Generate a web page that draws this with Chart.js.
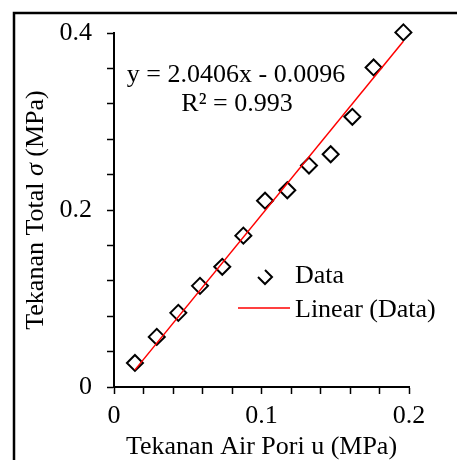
<!DOCTYPE html>
<html>
<head>
<meta charset="utf-8">
<script src="https://cdn.jsdelivr.net/npm/chart.js@4.4.1/dist/chart.umd.min.js"></script>
<style>
  html, body { margin: 0; padding: 0; background: #fff; }
  #wrap { width: 457px; height: 460px; }
</style>
</head>
<body>
<div id="wrap"><canvas id="myChart" width="457" height="460"></canvas></div>
<script>
// pore water pressure u vs total stress sigma (MPa)
const poreU = [0.0142, 0.0290, 0.0436, 0.0583, 0.0734, 0.0877, 0.1024, 0.1175, 0.1322, 0.1469, 0.1616, 0.1760, 0.1962];
const totalSigma = [0.0272, 0.0566, 0.0838, 0.1143, 0.1358, 0.1710, 0.2105, 0.2223, 0.2502, 0.2630, 0.3053, 0.3611, 0.4007];

// linear trendline (from the spreadsheet fit)
const slope = 2.0406;
const intercept = -0.0096;
const rSquared = 0.993;

const xTickLabels = ['0', '0.1', '0.2'];
const yTickLabels = ['0', '0.2', '0.4'];

const FONT = '"Liberation Serif", "Times New Roman", serif';

const scatterPoints = poreU.map((u, i) => ({ x: u, y: totalSigma[i] }));
const xFirst = Math.min(...poreU);
const xLast = Math.max(...poreU);
const trendPoints = [
  { x: xFirst, y: slope * xFirst + intercept },
  { x: xLast, y: slope * xLast + intercept }
];

// label only the major ticks, minor ones keep just the tick mark
function majorLabel(value, step, labels) {
  const k = value / step;
  if (Math.abs(k - Math.round(k)) < 1e-6) return labels[Math.round(k)] || '';
  return '';
}

const extras = {
  id: 'extras',
  beforeDraw(chart) {
    const ctx = chart.ctx;
    ctx.save();
    ctx.fillStyle = '#fff';
    ctx.fillRect(0, 0, chart.width, chart.height);
    ctx.restore();
  },
  afterDraw(chart) {
    const ctx = chart.ctx;
    const area = chart.chartArea;
    ctx.save();

    // outer frame
    ctx.strokeStyle = '#000';
    ctx.lineWidth = 2.5;
    ctx.strokeRect(14, 13, 600, 600);

    // y axis title with italic sigma
    const parts = [
      { t: 'Tekanan Total ', f: '26px ' + FONT },
      { t: '\u03C3', f: 'italic 26px ' + FONT },
      { t: ' (MPa)', f: '26px ' + FONT }
    ];
    let total = 0;
    parts.forEach(p => { ctx.font = p.f; p.w = ctx.measureText(p.t).width; total += p.w; });
    ctx.translate(36, (area.top + area.bottom) / 2);
    ctx.rotate(-Math.PI / 2);
    ctx.fillStyle = '#000';
    ctx.textBaseline = 'middle';
    ctx.textAlign = 'left';
    let px = -total / 2;
    parts.forEach(p => { ctx.font = p.f; ctx.fillText(p.t, px, 0); px += p.w; });
    ctx.setTransform(1, 0, 0, 1, 0, 0);

    // trendline equation
    ctx.font = '26px ' + FONT;
    ctx.textAlign = 'center';
    ctx.textBaseline = 'alphabetic';
    ctx.fillText('y = ' + slope.toFixed(4) + 'x - ' + Math.abs(intercept).toFixed(4), 236, 82);
    ctx.fillText('R\u00B2 = ' + rSquared.toFixed(3), 237, 111);

    // legend
    ctx.textAlign = 'left';
    ctx.fillText('Data', 295, 283);
    ctx.fillText('Linear (Data)', 295, 317);
    ctx.strokeStyle = '#000';
    ctx.lineWidth = 2;
    ctx.beginPath();
    ctx.moveTo(265, 270);
    ctx.lineTo(272, 277);
    ctx.lineTo(265, 284);
    ctx.lineTo(258, 277);
    ctx.stroke();
    ctx.strokeStyle = '#ff0000';
    ctx.lineWidth = 1.5;
    ctx.beginPath();
    ctx.moveTo(238, 308);
    ctx.lineTo(290, 308);
    ctx.stroke();

    ctx.restore();
  }
};

const ctx = document.getElementById('myChart').getContext('2d');
const myChart = new Chart(ctx, {
  type: 'scatter',
  data: {
    datasets: [
      {
        label: 'Linear (Data)',
        type: 'line',
        data: trendPoints,
        borderColor: '#ff0000',
        borderWidth: 1.5,
        pointRadius: 0,
        fill: false,
        tension: 0
      },
      {
        label: 'Data',
        data: scatterPoints,
        clip: false,
        pointStyle: 'rectRot',
        pointRadius: 8,
        pointBorderWidth: 2,
        pointBorderColor: '#000',
        pointBackgroundColor: 'rgba(255,255,255,0)'
      }
    ]
  },
  options: {
    responsive: false,
    animation: false,
    layout: { padding: { top: 33, right: 48, bottom: 0, left: 0 } },
    plugins: {
      legend: { display: false },
      tooltip: { enabled: false }
    },
    scales: {
      x: {
        type: 'linear',
        min: 0,
        max: 0.2,
        afterFit: s => { s.height = 73; },
        border: { display: true, color: '#000', width: 2 },
        grid: { drawOnChartArea: false, drawTicks: true, tickLength: 7, tickWidth: 1.5, tickColor: '#000' },
        ticks: {
          stepSize: 0.02,
          autoSkip: false,
          maxRotation: 0,
          padding: 7,
          color: '#000',
          font: { family: FONT, size: 26 },
          callback: v => majorLabel(v, 0.1, xTickLabels)
        },
        title: {
          display: true,
          text: 'Tekanan Air Pori u (MPa)',
          color: '#000',
          font: { family: FONT, size: 26, lineHeight: 1 },
          padding: { top: 0, bottom: 0 }
        }
      },
      y: {
        type: 'linear',
        min: 0,
        max: 0.4,
        afterFit: s => { s.width = 114; },
        border: { display: true, color: '#000', width: 2 },
        grid: { drawOnChartArea: false, drawTicks: true, tickLength: 7, tickWidth: 1.5, tickColor: '#000' },
        ticks: {
          stepSize: 0.04,
          autoSkip: false,
          padding: 15,
          color: '#000',
          font: { family: FONT, size: 26 },
          callback: v => majorLabel(v, 0.2, yTickLabels)
        }
      }
    }
  },
  plugins: [extras]
});
</script>
</body>
</html>
